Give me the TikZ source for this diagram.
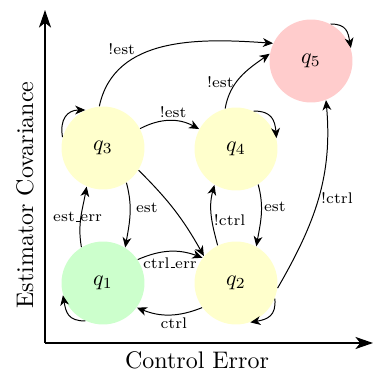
\documentclass[tikz,border=0pt]{standalone}
\usetikzlibrary{arrows.meta}
\definecolor{stY}{RGB}{255,255,204}
\definecolor{stG}{RGB}{204,255,204}
\definecolor{stR}{RGB}{255,204,204}
\newcommand\myus{\leavevmode\kern.06em\vbox{\hrule width.3em}}
\begin{document}
\begin{tikzpicture}[x=0.4545pt,y=0.4545pt,
  state/.style={circle,minimum size=37.7pt,inner sep=0pt,draw=none},
  edge/.style={-{Stealth[length=4.6pt,width=4pt,inset=1.4pt]},line width=0.45pt},
  axis/.style={-{Stealth[length=8pt,width=5.5pt,inset=2.2pt]},line width=0.75pt},
  lbl/.style={font=\scriptsize,inner sep=1pt},
  axlbl/.style={font=\fontsize{10.9}{13}\selectfont,inner sep=0pt}]
\useasboundingbox (0,0) rectangle (374,371);
\node[state,fill=stY] (q3) at (103,223) {$q_3$};
\node[state,fill=stY] (q4) at (236,222) {$q_4$};
\node[state,fill=stG] (q1) at (103,88) {$q_1$};
\node[state,fill=stY] (q2) at (236,88) {$q_2$};
\node[state,fill=stR] (q5) at (311,310) {$q_5$};
\coordinate (o) at (45,28);
\coordinate (ytop) at (45,361);
\coordinate (xend) at (373,28);
\draw[axis] (o) -- (ytop);
\draw[axis] (o) -- (xend);
\node[axlbl] (xl) at (197,11) {Control Error};
\node[axlbl,rotate=90] (yl) at (25,176) {Estimator Covariance};
% self loops
\draw[edge] (q3.165) to[out=100,in=180,looseness=1.3] (q3.115);
\draw[edge] (q4.65) to[out=0,in=95,looseness=1.3] (q4.15);
\draw[edge] (q5.62) to[out=0,in=100,looseness=1.3] (q5.18);
\draw[edge] (q1.245) to[out=180,in=-80,looseness=1.3] (q1.197);
\draw[edge] (q2.-22) to[out=-85,in=10,looseness=1.3] (q2.-70);
% transitions
\draw[edge] (q3) to[bend left=28] node[lbl,above,pos=0.56] {!est} (q4);
\draw[edge] (q3.95) to[out=78,in=176] node[lbl,pos=0.33,anchor=south east,xshift=1.5pt] {!est} (q5.155);
\draw[edge] (q4.105) to[out=80,in=215] node[lbl,pos=0.4,left] {!est} (q5.170);
\draw[edge] (q3.-56) to[out=-75,in=80] node[lbl,right,pos=0.38,xshift=1.5pt] {est} (q1.58);
\draw[edge] (q1.121) to[out=100,in=-100] node[lbl,pos=0.5,xshift=-1.5pt] {est\myus err} (q3.-113);
\draw[edge] (q3.-32) to[bend left=8] (q2.140);
\draw[edge] (q1.34) to[bend left=22] node[lbl,below,yshift=-1.5pt] {ctrl\myus err} (q2.143);
\draw[edge] (q2.216) to[bend left=22] node[lbl,below,xshift=2pt] {ctrl} (q1.-36);
\draw[edge] (q2.116) to[out=105,in=-105] node[lbl,right,pos=0.42,xshift=-0.3pt] {!ctrl} (q4.-121);
\draw[edge] (q4.-58) to[out=-75,in=80] node[lbl,right,pos=0.36] {est} (q2.61);
\draw[edge] (q2.-7) to[out=60,in=-85] node[lbl,right,pos=0.5] {!ctrl} (q5.-69);
\end{tikzpicture}
\end{document}
